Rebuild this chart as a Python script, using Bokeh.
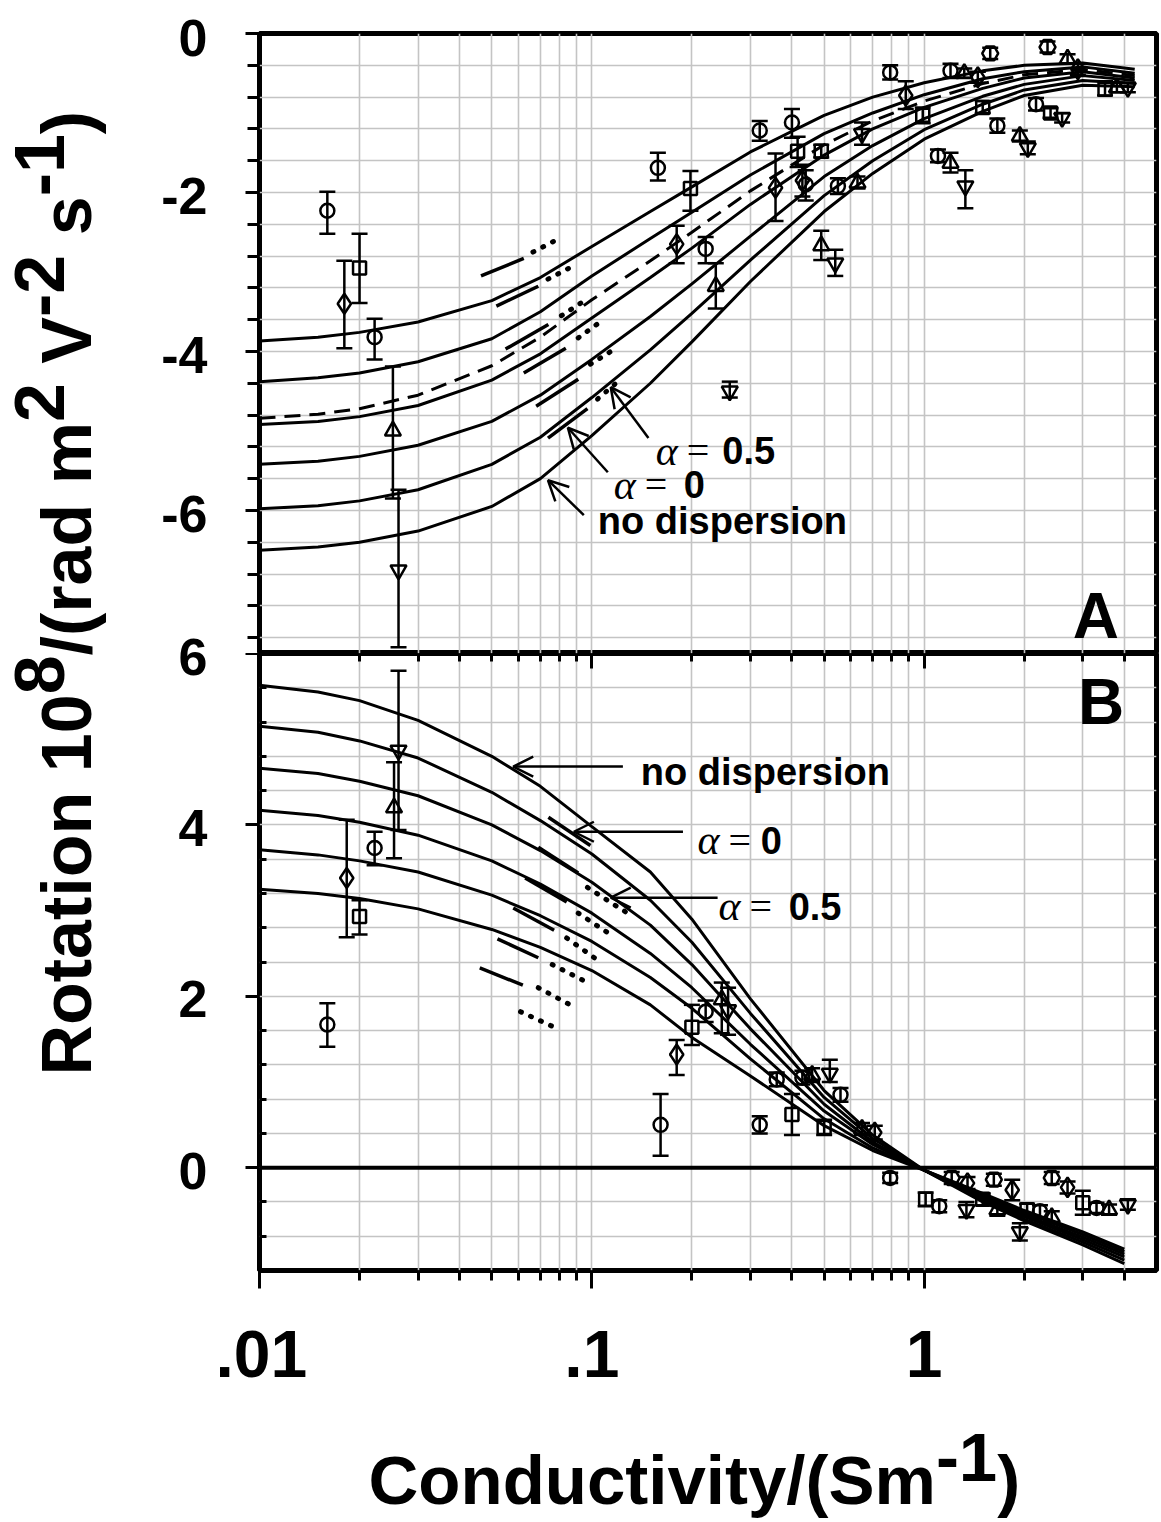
import math
from bokeh.plotting import figure
from bokeh.layouts import row, column
from bokeh.models import (Range1d, FixedTicker, LogAxis, Grid, Label, Arrow,
                          OpenHead, Span, ColumnDataSource)
from bokeh.embed import file_html
from bokeh.resources import INLINE
from bokeh.core.properties import value

FONT = "Liberation Sans"
SERIF = "Liberation Serif"

# ---------------- Panel A : model curves ----------------
A_X = [0.01, 0.015, 0.02, 0.03, 0.05, 0.07, 0.1, 0.15, 0.2, 0.3, 0.5, 0.7, 1, 1.5, 2, 3, 4.3]
A_C1 = [-3.87, -3.82, -3.76, -3.63, -3.36, -3.07, -2.68, -2.24, -1.93, -1.49, -1.03, -0.80, -0.62, -0.47, -0.40, -0.37, -0.45]
A_C2 = [-4.38, -4.33, -4.27, -4.13, -3.84, -3.50, -3.05, -2.58, -2.25, -1.78, -1.26, -1.00, -0.77, -0.57, -0.48, -0.42, -0.50]
A_DASH = [-4.84, -4.79, -4.72, -4.55, -4.18, -3.82, -3.35, -2.86, -2.50, -1.98, -1.40, -1.10, -0.85, -0.63, -0.52, -0.45, -0.53]
A_C3 = [-4.92, -4.88, -4.82, -4.68, -4.36, -4.03, -3.58, -3.07, -2.70, -2.15, -1.53, -1.20, -0.93, -0.69, -0.56, -0.48, -0.56]
A_C4 = [-5.42, -5.38, -5.32, -5.18, -4.88, -4.55, -4.10, -3.56, -3.15, -2.55, -1.80, -1.41, -1.07, -0.79, -0.64, -0.53, -0.59]
A_C5 = [-5.98, -5.94, -5.88, -5.74, -5.42, -5.08, -4.58, -3.98, -3.52, -2.85, -2.04, -1.60, -1.21, -0.89, -0.71, -0.59, -0.63]
A_C6 = [-6.50, -6.46, -6.40, -6.26, -5.95, -5.60, -5.06, -4.40, -3.88, -3.12, -2.24, -1.76, -1.33, -0.98, -0.78, -0.65, -0.67]

# short dispersion pieces (alpha = 0 : solid, alpha = 0.5 : dotted)
A_SEG_SOLID = [
    ([0.0464, 0.0624], [-3.05, -2.83]),
    ([0.0516, 0.069], [-3.43, -3.18]),
    ([0.055, 0.074], [-3.97, -3.66]),
    ([0.0624, 0.0835], [-4.27, -3.96]),
    ([0.068, 0.091], [-4.69, -4.35]),
    ([0.0738, 0.097], [-5.09, -4.72]),
]
A_SEG_DOT = [
    ([0.0665, 0.078], [-2.75, -2.60]),
    ([0.0738, 0.0865], [-3.09, -2.94]),
    ([0.081, 0.096], [-3.55, -3.35]),
    ([0.091, 0.105], [-3.83, -3.64]),
    ([0.099, 0.114], [-4.16, -4.00]),
    ([0.104, 0.122], [-4.60, -4.35]),
]

# ---------------- Panel A : measured points ----------------
A_circle = dict(x=[0.016, 0.0222, 0.158, 0.22, 0.32, 0.40, 0.44, 0.55, 0.79, 1.2, 1.1, 1.66, 2.17],
                y=[-2.23, -3.82, -1.69, -2.71, -1.22, -1.12, -1.90, -1.92, -0.49, -0.47, -1.54, -1.16, -0.89],
                lo=[-2.52, -4.10, -1.85, -2.89, -1.35, -1.31, -2.10, -2.02, -0.58, -0.56, -1.62, -1.25, -0.97],
                hi=[-1.99, -3.59, -1.50, -2.56, -1.10, -0.95, -1.72, -1.82, -0.40, -0.38, -1.46, -1.07, -0.81])
A_square = dict(x=[0.02, 0.198, 0.416, 0.49, 0.99, 1.5, 2.4, 3.5],
                y=[-2.95, -1.95, -1.48, -1.48, -1.03, -0.93, -1.00, -0.70],
                lo=[-3.39, -2.23, -1.68, -1.56, -1.13, -1.00, -1.06, -0.78],
                hi=[-2.52, -1.73, -1.30, -1.40, -0.93, -0.85, -0.94, -0.60])
A_diamond = dict(x=[0.018, 0.18, 0.357, 0.43, 0.88, 1.45, 2.9],
                 y=[-3.40, -2.65, -1.94, -1.85, -0.78, -0.55, -0.45],
                 lo=[-3.96, -2.89, -2.36, -2.05, -0.95, -0.62, -0.52],
                 hi=[-2.86, -2.42, -1.51, -1.65, -0.60, -0.48, -0.38])
A_tri_up = dict(x=[0.0252, 0.236, 0.49, 0.63, 1.2, 1.94, 2.7, 3.8, 1.32],
                y=[-5.00, -3.18, -2.67, -1.88, -1.63, -1.29, -0.32, -0.68, -0.50],
                lo=[-5.85, -3.46, -2.85, -1.95, -1.75, -1.36, -0.38, -0.74, -0.56],
                hi=[-4.19, -2.89, -2.48, -1.80, -1.50, -1.22, -0.26, -0.62, -0.44])
A_tri_down = dict(x=[0.0262, 0.26, 0.54, 0.65, 1.33, 2.05, 2.6, 4.1],
                  y=[-6.75, -4.50, -2.89, -1.26, -1.92, -1.44, -1.06, -0.68],
                  lo=[-7.72, -4.58, -3.05, -1.40, -2.20, -1.52, -1.12, -0.74],
                  hi=[-5.74, -4.38, -2.72, -1.12, -1.72, -1.36, -1.00, -0.62])
A_hex = dict(x=[1.58, 2.35], y=[-0.25, -0.17], lo=[-0.32, -0.24], hi=[-0.18, -0.10])

# ---------------- Panel B : model curves ----------------
B_X = [0.01, 0.015, 0.02, 0.03, 0.05, 0.07, 0.1, 0.15, 0.2, 0.3, 0.5, 0.7, 1, 1.5, 2, 3, 4]
B_T1 = [5.63, 5.55, 5.45, 5.22, 4.80, 4.45, 3.98, 3.45, 2.90, 1.97, 0.90, 0.38, -0.03, -0.40, -0.62, -0.90, -1.12]
B_T2 = [5.15, 5.08, 4.98, 4.78, 4.38, 4.05, 3.66, 3.12, 2.63, 1.80, 0.82, 0.34, -0.03, -0.38, -0.60, -0.87, -1.08]
B_T3 = [4.66, 4.60, 4.51, 4.34, 4.00, 3.70, 3.33, 2.83, 2.37, 1.62, 0.74, 0.30, -0.03, -0.36, -0.57, -0.84, -1.04]
B_T4 = [4.17, 4.11, 4.03, 3.88, 3.58, 3.31, 2.97, 2.50, 2.10, 1.44, 0.66, 0.27, -0.03, -0.34, -0.55, -0.81, -1.01]
B_T5 = [3.71, 3.65, 3.58, 3.45, 3.18, 2.94, 2.64, 2.22, 1.86, 1.27, 0.57, 0.23, -0.03, -0.32, -0.52, -0.78, -0.98]
B_T6 = [3.25, 3.20, 3.14, 3.02, 2.78, 2.57, 2.30, 1.90, 1.52, 1.07, 0.49, 0.20, -0.03, -0.30, -0.50, -0.75, -0.95]

B_SEG_SOLID = [
    ([0.074, 0.099], [4.09, 3.76]),
    ([0.069, 0.091], [3.74, 3.44]),
    ([0.063, 0.084], [3.38, 3.10]),
    ([0.058, 0.077], [3.03, 2.77]),
    ([0.052, 0.069], [2.67, 2.45]),
    ([0.046, 0.062], [2.33, 2.13]),
]
B_SEG_DOT = [
    ([0.097, 0.128], [3.27, 2.97]),
    ([0.091, 0.117], [2.97, 2.69]),
    ([0.084, 0.106], [2.68, 2.40]),
    ([0.076, 0.097], [2.37, 2.16]),
    ([0.069, 0.088], [2.10, 1.88]),
    ([0.061, 0.078], [1.82, 1.63]),
]

# ---------------- Panel B : measured points ----------------
B_circle = dict(x=[0.016, 0.0222, 0.161, 0.22, 0.32, 0.36, 0.43, 0.56, 0.79, 1.11, 2.23, 3.3],
                y=[1.67, 3.73, 0.50, 1.82, 0.50, 1.03, 1.05, 0.85, -0.12, -0.45, -0.51, -0.47],
                lo=[1.41, 3.53, 0.14, 1.70, 0.40, 0.95, 0.97, 0.77, -0.18, -0.52, -0.58, -0.53],
                hi=[1.92, 3.92, 0.86, 1.95, 0.60, 1.11, 1.13, 0.93, -0.06, -0.38, -0.44, -0.41])
B_square = dict(x=[0.02, 0.2, 0.4, 0.5, 1.01, 1.5, 2.04, 3.0],
                y=[2.93, 1.64, 0.62, 0.47, -0.37, -0.37, -0.49, -0.41],
                lo=[2.72, 1.43, 0.38, 0.38, -0.45, -0.44, -0.56, -0.55],
                hi=[3.12, 1.90, 0.86, 0.56, -0.29, -0.30, -0.42, -0.27])
B_diamond = dict(x=[0.0183, 0.18, 0.71, 1.35, 1.84, 2.7],
                 y=[3.38, 1.32, 0.41, -0.18, -0.26, -0.23],
                 lo=[2.69, 1.08, 0.33, -0.25, -0.38, -0.30],
                 hi=[4.06, 1.49, 0.49, -0.11, -0.14, -0.16])
B_tri_up = dict(x=[0.0254, 0.246, 0.46, 0.65, 1.66, 2.42, 3.6],
                y=[4.20, 1.96, 1.08, 0.45, -0.49, -0.58, -0.49],
                lo=[3.61, 1.57, 1.00, 0.38, -0.56, -0.65, -0.55],
                hi=[4.73, 2.16, 1.16, 0.52, -0.42, -0.51, -0.43])
B_tri_down = dict(x=[0.0262, 0.257, 0.52, 1.34, 1.94, 4.1],
                  y=[4.87, 1.84, 1.10, -0.49, -0.75, -0.43],
                  lo=[3.94, 1.55, 1.00, -0.58, -0.85, -0.49],
                  hi=[5.80, 2.10, 1.26, -0.40, -0.65, -0.37])
B_hex = dict(x=[1.21, 1.62, 2.42], y=[-0.12, -0.14, -0.12], lo=[-0.19, -0.21, -0.19], hi=[-0.05, -0.07, -0.05])

# ---------------- ticks ----------------
X_MAJOR = [0.01, 0.1, 1]
X_MINOR = [0.02, 0.03, 0.04, 0.05, 0.06, 0.07, 0.08, 0.09,
           0.2, 0.3, 0.4, 0.5, 0.6, 0.7, 0.8, 0.9, 2, 3, 4]
X_LABELS = {0.01: ".01", 0.1: ".1", 1: "1"}
A_MAJOR = [0, -2, -4, -6]
A_MAJOR_LABELS = ["0", "-2", "-4", "-6"]
A_MINOR = [-7.6, -7.2, -6.8, -6.4, -5.6, -5.2, -4.8, -4.4, -3.6, -3.2, -2.8, -2.4, -1.6, -1.2, -0.8, -0.4]
B_MAJOR = [6, 4, 2, 0]
B_MAJOR_LABELS = ["6", "4", "2", "0"]
B_MINOR = [-0.8, -0.4, 0.4, 0.8, 1.2, 1.6, 2.4, 2.8, 3.2, 3.6, 4.4, 4.8, 5.2, 5.6]

# axis titles, split into (text, superscript?) pieces
Y_TITLE = [("Rotation 10", False), ("8", True), ("/(rad m", False), ("2", True),
           (" V", False), ("-2", True), (" s", False), ("-1", True), (")", False)]
X_TITLE = [("Conductivity/(Sm", False), ("-1", True), (")", False)]

# ---------------- layout constants ----------------
LEFT_W = 215           # width of the left strip (y title + y tick labels)
PW = 1161 - LEFT_W
FRAME_L, FRAME_R = 259, 1156
A_TOP = 33
B_TOP, B_BOT = 653, 1270
A_RANGE = (-7.8, 0)
B_RANGE = (-1.2, 6)
XT_TOP = 1410          # page y where the x-title strip begins
GRID_COLOR = "#c4c4c4"
BASE_SHIFT = 0.31      # em offset between anchor and drawn baseline

# Arial/Liberation Sans Bold advance widths (per 1000 em)
AW = {' ': 278, '(': 333, ')': 333, '-': 333, '/': 278, '0': 556, '1': 556, '2': 556,
      '8': 556, 'C': 722, 'R': 722, 'S': 667, 'V': 667, 'a': 556, 'c': 556, 'd': 611,
      'i': 278, 'm': 889, 'n': 611, 'o': 611, 'r': 389, 's': 556, 't': 333, 'u': 611,
      'v': 556, 'y': 556}


def tw(s, size):
    return sum(AW.get(c, 556) for c in s) * size / 1000.0


def base_fig(height, yr, top, bottom, x_axis):
    p = figure(width=PW, height=height, x_axis_type="log",
               x_range=Range1d(0.01, 5), y_range=Range1d(*yr),
               toolbar_location=None, output_backend="svg",
               x_axis_location=x_axis, min_border_left=FRAME_L - LEFT_W,
               min_border_right=PW + LEFT_W - FRAME_R, min_border_top=top,
               min_border_bottom=bottom)
    p.center = [r for r in p.center if not isinstance(r, Grid)]
    p.outline_line_color = "black"
    p.outline_line_width = 5
    p.background_fill_color = "white"
    p.border_fill_color = "white"
    xg = Grid(dimension=0, ticker=FixedTicker(ticks=X_MAJOR + X_MINOR),
              grid_line_color=GRID_COLOR, grid_line_width=1.6)
    p.add_layout(xg, "center")
    return p


def style_y(p, major, minor, tick_in):
    ax = p.yaxis[0]
    ax.ticker = FixedTicker(ticks=major, minor_ticks=minor)
    # the tick labels are drawn in the left strip so that "6" may straddle both panels
    ax.major_label_overrides = {v: " " for v in major}
    ax.major_label_text_font_size = "1px"
    ax.major_label_text_color = None
    ax.major_label_standoff = 0
    ax.axis_line_color = None
    ax.major_tick_line_width = 3
    ax.minor_tick_line_width = 3
    ax.major_tick_line_color = "black"
    ax.minor_tick_line_color = "black"
    ax.major_tick_out = 14
    ax.major_tick_in = 0
    if tick_in:
        ax.minor_tick_out = 0
        ax.minor_tick_in = 7
    else:
        ax.minor_tick_out = 12
        ax.minor_tick_in = 0
    yg = Grid(dimension=1, ticker=FixedTicker(ticks=major + minor),
              grid_line_color=GRID_COLOR, grid_line_width=1.6)
    p.add_layout(yg, "center")


def draw_curves(p, xs, curves):
    for c in curves:
        p.line(xs, c, line_color="black", line_width=3)


def draw_pieces(p, solid, dotted):
    for xs, ys in solid:
        p.line(xs, ys, line_color="black", line_width=3.5)
    for xs, ys in dotted:
        p.line(xs, ys, line_color="black", line_width=5, line_dash="1 10", line_cap="round")


def draw_points(p, pts, marker, size):
    src = ColumnDataSource(pts)
    p.segment(x0="x", y0="lo", x1="x", y1="hi", source=src, line_color="black", line_width=2.5)
    p.scatter(x="x", y="lo", source=src, marker="dash", size=16, line_color="black", line_width=2.5)
    p.scatter(x="x", y="hi", source=src, marker="dash", size=16, line_color="black", line_width=2.5)
    p.scatter(x="x", y="y", source=src, marker=marker, size=size, fill_color=None,
              line_color="black", line_width=2.5)


def add_text(p, x, y, txt, size, style="bold", font=FONT):
    p.add_layout(Label(x=x, y=y, text=txt, text_font=font,
                       text_font_style=style,
                       text_font_size="%dpx" % size, text_color="black",
                       text_baseline="alphabetic", text_align="left"))


def add_alpha(p, x, y):
    add_text(p, x, y, "α", 42, style="italic", font=SERIF)
    p.add_layout(Label(x=x, y=y, x_offset=31, text="=", text_font=SERIF,
                       text_font_style="normal", text_font_size="40px", text_color="black",
                       text_baseline="alphabetic", text_align="left"))


def add_arrow(p, xs, ys, xe, ye):
    p.add_layout(Arrow(end=OpenHead(size=20, line_width=2.5, line_color="black"),
                       x_start=xs, y_start=ys, x_end=xe, y_end=ye,
                       line_color="black", line_width=2.5))


# ---------------- Panel A ----------------
pA = base_fig(B_TOP, A_RANGE, A_TOP, 0, None)
style_y(pA, A_MAJOR, A_MINOR, False)
draw_curves(pA, A_X, [A_C1, A_C2, A_C3, A_C4, A_C5, A_C6])
pA.line(A_X, A_DASH, line_color="black", line_width=3, line_dash="16 9")
draw_pieces(pA, A_SEG_SOLID, A_SEG_DOT)
draw_points(pA, A_circle, "circle", 14)
draw_points(pA, A_square, "square", 13)
draw_points(pA, A_diamond, "diamond", 20)
draw_points(pA, A_tri_up, "triangle", 16)
draw_points(pA, A_tri_down, "inverted_triangle", 16)
draw_points(pA, A_hex, "hex", 16)

add_arrow(pA, 0.0946, -6.06, 0.0738, -5.62)
add_arrow(pA, 0.1117, -5.52, 0.0847, -4.96)
add_arrow(pA, 0.148, -5.09, 0.114, -4.45)
add_alpha(pA, 0.1557, -5.25)
add_text(pA, 0.247, -5.25, "0.5", 38)
add_alpha(pA, 0.1164, -5.68)
add_text(pA, 0.189, -5.68, "0", 38)
add_text(pA, 0.1042, -6.13, "no dispersion", 38)
add_text(pA, 2.8, -7.33, "A", 64)

# ---------------- Panel B ----------------
pB = base_fig(XT_TOP - B_TOP, B_RANGE, 0, XT_TOP - B_BOT, "below")
style_y(pB, B_MAJOR, B_MINOR, True)
xa = pB.xaxis[0]
xa.ticker = FixedTicker(ticks=X_MAJOR, minor_ticks=X_MINOR)
xa.major_label_overrides = X_LABELS
xa.major_label_text_font = FONT
xa.major_label_text_font_style = "bold"
xa.major_label_text_font_size = "66px"
xa.major_label_text_color = "black"
xa.major_label_standoff = 42
xa.axis_line_color = None
xa.major_tick_out = 18
xa.minor_tick_out = 10
xa.major_tick_in = 0
xa.minor_tick_in = 0
xa.major_tick_line_width = 3
xa.minor_tick_line_width = 3
xa.major_tick_line_color = "black"
xa.minor_tick_line_color = "black"

top_ax = LogAxis(ticker=FixedTicker(ticks=X_MAJOR, minor_ticks=X_MINOR),
                 major_label_overrides={0.01: " ", 0.1: " ", 1: " "},
                 major_label_text_font_size="1px", major_label_text_color=None,
                 major_label_standoff=0,
                 axis_line_color=None, major_tick_in=15, major_tick_out=0,
                 minor_tick_in=8, minor_tick_out=0,
                 major_tick_line_width=3, minor_tick_line_width=3)
pB.add_layout(top_ax, "above")

pB.add_layout(Span(location=0, dimension="width", line_color="black", line_width=4))
draw_curves(pB, B_X, [B_T1, B_T2, B_T3, B_T4, B_T5, B_T6])
draw_pieces(pB, B_SEG_SOLID, B_SEG_DOT)
draw_points(pB, B_circle, "circle", 14)
draw_points(pB, B_square, "square", 13)
draw_points(pB, B_diamond, "diamond", 20)
draw_points(pB, B_tri_up, "triangle", 16)
draw_points(pB, B_tri_down, "inverted_triangle", 16)
draw_points(pB, B_hex, "hex", 16)

add_arrow(pB, 0.124, 4.68, 0.058, 4.68)
add_arrow(pB, 0.188, 3.92, 0.0883, 3.92)
add_arrow(pB, 0.239, 3.15, 0.114, 3.15)
add_text(pB, 0.1404, 4.62, "no dispersion", 38)
add_alpha(pB, 0.208, 3.82)
add_text(pB, 0.322, 3.82, "0", 38)
add_alpha(pB, 0.2406, 3.05)
add_text(pB, 0.391, 3.05, "0.5", 38)
add_text(pB, 2.9, 5.43, "B", 64)

# ---------------- x title strip (page-pixel coordinates) ----------------
XH = 1522 - XT_TOP
xfig = figure(width=PW, height=XH, x_range=Range1d(FRAME_L, FRAME_R), y_range=Range1d(0, XH),
              toolbar_location=None, output_backend="svg",
              min_border_left=FRAME_L - LEFT_W, min_border_right=PW + LEFT_W - FRAME_R,
              min_border_top=0, min_border_bottom=0,
              x_axis_location=None, y_axis_location=None)
xfig.grid.visible = False
xfig.outline_line_color = None
XT_SIZE = 69
x_cursor = 368.0
for txt, sup in X_TITLE:
    base_py = 1501 - (23 if sup else 0) - BASE_SHIFT * XT_SIZE
    xfig.text(x=[x_cursor], y=[1522 - base_py], text=[txt],
              text_align="left", text_baseline="alphabetic", text_font=value(FONT),
              text_font_style="bold", text_font_size="%dpx" % XT_SIZE, text_color="black")
    x_cursor += tw(txt, XT_SIZE)

# ---------------- left strip: y title and y tick labels (page-pixel coordinates) ----------------
tfig = figure(width=LEFT_W, height=1522, x_range=Range1d(0, LEFT_W), y_range=Range1d(0, 1522),
              toolbar_location=None, output_backend="svg", min_border=0,
              x_axis_location=None, y_axis_location=None)
tfig.grid.visible = False
tfig.outline_line_color = None
YT_SIZE = 70
y_cursor = 1522 - 1075.0
for txt, sup in Y_TITLE:
    lead = len(txt) - len(txt.lstrip())
    start = y_cursor + tw(txt[:lead], YT_SIZE)
    bx = 88 - (27 if sup else 0) - BASE_SHIFT * YT_SIZE
    tfig.text(x=[bx], y=[start], text=[txt.strip()], angle=math.pi / 2,
              text_align="left", text_baseline="alphabetic", text_font=value(FONT),
              text_font_style="bold", text_font_size="%dpx" % YT_SIZE, text_color="black")
    y_cursor += tw(txt, YT_SIZE)

a_scale = (B_TOP - A_TOP) / (A_RANGE[1] - A_RANGE[0])
b_scale = (B_BOT - B_TOP) / (B_RANGE[1] - B_RANGE[0])
tick_y = [1522 - (A_TOP + (A_RANGE[1] - v) * a_scale + 4) for v in A_MAJOR] + \
         [1522 - (B_TOP + (B_RANGE[1] - v) * b_scale + 3) for v in B_MAJOR]
tfig.text(x=[207] * len(tick_y), y=tick_y, text=A_MAJOR_LABELS + B_MAJOR_LABELS,
          text_align="right", text_baseline="middle", text_font=value(FONT),
          text_font_style="bold", text_font_size="52px", text_color="black")

layout = row(tfig, column(pA, pB, xfig, spacing=0), spacing=0)
open("out.html", "w").write(file_html(layout, INLINE))
